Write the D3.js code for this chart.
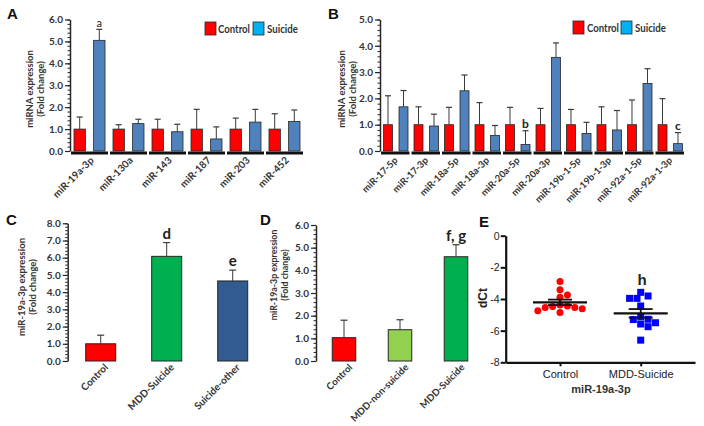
<!DOCTYPE html>
<html><head><meta charset="utf-8">
<script src="https://cdn.jsdelivr.net/npm/d3@7"></script>
<style>
body{margin:0;background:#fff;}
svg{display:block;font-family:Lato,"Open Sans",sans-serif;}
</style></head><body>
<svg id="c" width="704" height="426"></svg>
<script>
// ---------- data ----------
const groupsAB = ['Control', 'Suicide'];
const mirsA = ['miR-19a-3p', 'miR-130a', 'miR-143', 'miR-187', 'miR-203', 'miR-452'];
const ctrlA = [1, 1, 1, 1, 1, 1];
const ctrlErrA = [0.55, 0.2, 0.45, 0.9, 0.5, 0.7];
const suiA = [5.05, 1.25, 0.88, 0.55, 1.32, 1.35];
const suiErrA = [0.5, 0.2, 0.34, 0.55, 0.58, 0.52];
const ticksA = [0, 1, 2, 3, 4, 5, 6];

const mirsB = ['miR-17-5p', 'miR-17-3p', 'miR-18a-5p', 'miR-18a-3p', 'miR-20a-5p', 'miR-20a-3p', 'miR-19b-1-5p', 'miR-19b-1-3p', 'miR-92a-1-5p', 'miR-92a-1-3p'];
const ctrlB = [1, 1, 1, 1, 1, 1, 1, 1, 1, 1];
const ctrlErrB = [1.1, 0.68, 0.66, 0.84, 0.66, 0.62, 0.58, 0.68, 0.94, 0.99];
const suiB = [1.68, 0.95, 2.29, 0.59, 0.25, 3.56, 0.67, 0.8, 2.57, 0.28];
const suiErrB = [0.62, 0.45, 0.6, 0.38, 0.52, 0.55, 0.42, 0.74, 0.56, 0.42];
const ticksB = [0, 1, 2, 3, 4, 5];
const sigB = {'miR-20a-5p': 'b', 'miR-92a-1-3p': 'c'};

const groupsC = ['Control', 'MDD-Suicide', 'Suicide-other'];
const valsC = [1.0, 6.08, 4.65];
const errC = [0.5, 0.8, 0.63];
const sigC = ['', 'd', 'e'];
const ticksC = [0, 1, 2, 3, 4, 5, 6, 7, 8];

const groupsD = ['Control', 'MDD-non-suicide', 'MDD-Suicide'];
const valsD = [1.03, 1.38, 4.6];
const errD = [0.77, 0.44, 0.53];
const sigD = ['', '', 'f, g'];
const ticksD = [0, 1, 2, 3, 4, 5, 6];

const groupsE = ['Control', 'MDD-Suicide'];
const ctrlE = [-2.9, -3.41, -3.75, -3.89, -4.38, -4.44, -4.53, -4.61, -4.86, -4.74, -4.53, -4.48];
const mddE = [-3.58, -3.81, -3.96, -3.96, -4.44, -5.12, -5.3, -5.28, -5.58, -5.75, -5.5, -6.6];
const ticksE = [0, -2, -4, -6, -8];

// ---------- helpers ----------
const svg = d3.select('#c');
const TXT = '#333333';
const STROKE = '#262626';
const RED = '#ff0000', BLUE = '#4f81bd', LEGBLUE = '#00b0f0';

function yAxisBars(x, y, majors, minorStep) {
  const [d0, d1] = y.domain();
  const minors = d3.range(d0, d1 + 1e-9, minorStep);
  svg.append('g').attr('transform', `translate(${x},0)`)
    .call(d3.axisLeft(y).tickValues(minors).tickSize(2.5).tickSizeOuter(0).tickFormat(''))
    .call(g => g.selectAll('line').attr('stroke', STROKE))
    .call(g => g.select('.domain').attr('stroke', STROKE).attr('stroke-width', 1.5));
  svg.append('g').attr('transform', `translate(${x},0)`)
    .call(d3.axisLeft(y).tickValues(majors).tickSize(5).tickSizeOuter(0).tickFormat(d3.format('.1f')))
    .call(g => g.select('.domain').remove())
    .call(g => g.selectAll('line').attr('stroke', STROKE).attr('stroke-width', 1.2))
    .call(g => g.selectAll('text').attr('fill', TXT).attr('font-size', 10).attr('font-weight', 700)
      .attr('font-family', 'Lato, sans-serif').attr('x', -7));
}

function yTitle(cx, cy, lines, size) {
  lines.forEach((t, i) => {
    svg.append('text').attr('transform', `translate(${cx[i]},${cy}) rotate(-90)`)
      .attr('text-anchor', 'middle').attr('font-size', size).attr('font-weight', 700)
      .attr('fill', TXT).text(t);
  });
}

function errBar(xc, yTop, yVal, cap) {
  svg.append('line').attr('x1', xc).attr('x2', xc).attr('y1', yVal).attr('y2', yTop)
    .attr('stroke', '#3a3a3a').attr('stroke-width', 1);
  svg.append('line').attr('x1', xc - cap / 2).attr('x2', xc + cap / 2).attr('y1', yTop).attr('y2', yTop)
    .attr('stroke', '#3a3a3a').attr('stroke-width', 1.2);
}

function panelLetter(t, x, y) {
  svg.append('text').attr('x', x).attr('y', y).attr('font-family', 'Arial, "Liberation Sans", sans-serif')
    .attr('font-weight', 700).attr('font-size', 15).attr('fill', '#111').text(t);
}

function groupedPanel(o) {
  const x0 = d3.scaleBand().domain(o.cats).range(o.xr);
  const x1 = d3.scaleBand().domain(groupsAB).range(o.sub).paddingInner(0.42);
  const y = d3.scaleLinear().domain(o.yd).range(o.yr);
  yAxisBars(o.xr[0], y, o.ticks, 0.2);
  // segmented baseline
  svg.append('g').selectAll('line').data(o.cats).join('line')
    .attr('x1', d => x0(d) + 1).attr('x2', d => x0(d) + x0.step() - 1)
    .attr('y1', y(0) + 2).attr('y2', y(0) + 2)
    .attr('stroke', '#111').attr('stroke-width', 3);
  const rows = [];
  o.cats.forEach((c, i) => {
    rows.push({c, g: 'Control', v: o.ctrl[i], e: o.ctrlErr[i]});
    rows.push({c, g: 'Suicide', v: o.sui[i], e: o.suiErr[i]});
  });
  svg.append('g').selectAll('rect').data(rows).join('rect')
    .attr('x', d => x0(d.c) + x1(d.g)).attr('width', x1.bandwidth())
    .attr('y', d => y(d.v)).attr('height', d => y(0) - y(d.v))
    .attr('fill', d => d.g === 'Control' ? RED : BLUE)
    .attr('stroke', STROKE).attr('stroke-width', 0.8);
  rows.forEach(d => errBar(x0(d.c) + x1(d.g) + x1.bandwidth() / 2, y(d.v + d.e), y(d.v), 6));
  // labels
  svg.append('g').selectAll('text').data(o.cats).join('text')
    .attr('transform', d => `translate(${x0(d) + x0.bandwidth() / 2 + o.lblDx},${y(0) + 10}) rotate(-45)`)
    .attr('text-anchor', 'end').attr('font-size', o.lblSize).attr('font-weight', 700).attr('fill', TXT)
    .text(d => d);
  // significance
  rows.forEach(d => {
    const s = o.sig[d.c];
    if (s && d.g === 'Suicide') {
      svg.append('text').attr('x', x0(d.c) + x1(d.g) + x1.bandwidth() / 2).attr('y', y(d.v + d.e) - 2.5)
        .attr('text-anchor', 'middle').attr('font-size', o.sigSize).attr('font-weight', o.sigWeight)
        .attr('fill', '#222').text(s);
    }
  });
  // legend
  const L = o.leg;
  [[groupsAB[0], RED, L[0], L[2], 32], [groupsAB[1], LEGBLUE, L[1], L[3], 31]].forEach(([t, col, rx, tx, w]) => {
    svg.append('rect').attr('x', rx).attr('y', o.legY).attr('width', 11).attr('height', 13)
      .attr('fill', col).attr('stroke', STROKE).attr('stroke-width', 0.8);
    svg.append('text').attr('x', tx).attr('y', o.legY + 11).attr('font-size', 10.5).attr('font-weight', 700)
      .attr('textLength', w).attr('lengthAdjust', 'spacingAndGlyphs')
      .attr('fill', TXT).text(t);
  });
  return {x0, x1, y};
}

// ---------- Panel A ----------
panelLetter('A', 7, 19);
groupedPanel({
  cats: mirsA, ctrl: ctrlA, ctrlErr: ctrlErrA, sui: suiA, suiErr: suiErrA,
  xr: [70, 304], sub: [4, 35], yd: [0, 6], yr: [151, 19.5], ticks: ticksA,
  lblDx: 5, lblSize: 10, sig: {'miR-19a-3p': 'a'}, sigSize: 11, sigWeight: 400,
  leg: [205, 253, 218, 267], legY: 22
});
yTitle([33, 44], 89, ['miRNA  expression', '(Fold change)'], 9.5);

// ---------- Panel B ----------
panelLetter('B', 328, 19);
groupedPanel({
  cats: mirsB, ctrl: ctrlB, ctrlErr: ctrlErrB, sui: suiB, suiErr: suiErrB,
  xr: [380, 685], sub: [3.5, 28], yd: [0, 5], yr: [151, 19.5], ticks: ticksB,
  lblDx: 3, lblSize: 9.5, sig: sigB, sigSize: 12, sigWeight: 700,
  leg: [573, 621, 587, 635], legY: 21
});
yTitle([345, 356], 89, ['miRNA  expression', '(Fold change)'], 9.5);

// ---------- single bar panels ----------
function singlePanel(o) {
  const x = d3.scaleBand().domain(o.cats).range(o.xr).paddingInner(o.pi).paddingOuter(o.pi / 2);
  const y = d3.scaleLinear().domain(o.yd).range(o.yr);
  yAxisBars(o.xr[0], y, o.ticks, 0.2);
  svg.append('g').selectAll('rect').data(o.cats).join('rect')
    .attr('x', d => x(d)).attr('width', x.bandwidth())
    .attr('y', (d, i) => y(o.vals[i])).attr('height', (d, i) => y(0) - y(o.vals[i]))
    .attr('fill', (d, i) => o.colors[i]).attr('stroke', STROKE).attr('stroke-width', 1);
  o.cats.forEach((d, i) => {
    const xc = x(d) + x.bandwidth() / 2;
    errBar(xc, y(o.vals[i] + o.errs[i]), y(o.vals[i]), 7);
    if (o.sig[i]) {
      svg.append('text').attr('x', xc).attr('y', y(o.vals[i] + o.errs[i]) - 4)
        .attr('text-anchor', 'middle').attr('font-size', 15).attr('font-weight', 700)
        .attr('fill', '#222').text(o.sig[i]);
    }
  });
  svg.append('g').selectAll('text').data(o.cats).join('text')
    .attr('transform', d => `translate(${x(d) + x.bandwidth() / 2 + o.lblDx},${y(0) + 7}) rotate(-45)`)
    .attr('text-anchor', 'end').attr('font-size', o.lblSize).attr('font-weight', 700).attr('fill', TXT)
    .text(d => d);
}

panelLetter('C', 6, 225);
singlePanel({
  cats: groupsC, vals: valsC, errs: errC, sig: sigC, colors: [RED, '#00b050', '#325b91'],
  xr: [67.7, 265.7], pi: 0.545, yd: [0, 8], yr: [361, 223.3], ticks: ticksC, lblDx: 8, lblSize: 10
});
yTitle([25, 35.5], 287, ['miR-19a-3p  expression', '(Fold change)'], 9.5);

panelLetter('D', 260, 225);
singlePanel({
  cats: groupsD, vals: valsD, errs: errD, sig: sigD, colors: [RED, '#92d050', '#00b050'],
  xr: [316, 484], pi: 0.58, yd: [0, 6], yr: [361, 225], ticks: ticksD, lblDx: 9, lblSize: 9.6
});
yTitle([277, 287.5], 275, ['miR-19a-3p  expression', '(Fold change)'], 8.8);

// ---------- Panel E ----------
panelLetter('E', 479, 227);
const xE = d3.scalePoint().domain(groupsE).range([505.7, 695]).padding(0.673);
const yE = d3.scaleLinear().domain([-8, 0]).range([362.3, 235.7]);
svg.append('g').attr('transform', 'translate(505.7,0)')
  .call(d3.axisLeft(yE).tickValues(ticksE).tickSize(5).tickSizeOuter(0).tickFormat(d => String(d)))
  .call(g => g.select('.domain').attr('stroke', '#111').attr('stroke-width', 2.2))
  .call(g => g.selectAll('line').attr('stroke', '#111').attr('stroke-width', 2))
  .call(g => g.selectAll('text').attr('font-family', 'Arial, "Liberation Sans", sans-serif')
    .attr('font-size', 10.5).attr('fill', '#222').attr('x', -6));
svg.append('g').attr('transform', 'translate(0,362.3)')
  .call(d3.axisBottom(xE).tickSize(4).tickSizeOuter(0))
  .call(g => g.select('.domain').attr('stroke', '#111').attr('stroke-width', 2.2))
  .call(g => g.selectAll('line').attr('stroke', '#111').attr('stroke-width', 2))
  .call(g => g.selectAll('text').attr('font-family', 'Arial, "Liberation Sans", sans-serif')
    .attr('font-size', 11).attr('fill', '#222').attr('y', 8));
svg.append('text').attr('x', 601).attr('y', 393).attr('text-anchor', 'middle')
  .attr('font-family', 'Arial, "Liberation Sans", sans-serif').attr('font-size', 11)
  .attr('font-weight', 700).attr('fill', '#333').text('miR-19a-3p');
svg.append('text').attr('transform', 'translate(487,298) rotate(-90)').attr('text-anchor', 'middle')
  .attr('font-family', 'Arial, "Liberation Sans", sans-serif').attr('font-size', 12)
  .attr('font-weight', 700).attr('fill', '#222').text('dCt');

function swarm(values, cx, r) {
  const placed = [];
  const order = values.map((v, i) => i).sort((a, b) => values[b] - values[a]);
  const step = 2 * r + 0.4;
  const offs = [0];
  for (let k = 1; k < 12; k++) { offs.push(k * step / 2, -k * step / 2); }
  order.forEach(i => {
    const py = yE(values[i]);
    for (const o of offs) {
      const px = cx + o;
      if (placed.every(p => (p.x - px) ** 2 + (p.y - py) ** 2 >= (2 * r) ** 2)) {
        placed.push({x: px, y: py, v: values[i]});
        break;
      }
    }
  });
  return placed;
}
const R = 3.5;
const ptsC = swarm(ctrlE, xE('Control'), R);
const ptsM = swarm(mddE, xE('MDD-Suicide'), R);
svg.append('g').selectAll('circle').data(ptsC).join('circle')
  .attr('cx', d => d.x).attr('cy', d => d.y).attr('r', R).attr('fill', '#ff0000');
svg.append('g').selectAll('rect').data(ptsM).join('rect')
  .attr('x', d => d.x - R).attr('y', d => d.y - R).attr('width', 2 * R).attr('height', 2 * R).attr('fill', '#0000ff');

[[ctrlE, 'Control'], [mddE, 'MDD-Suicide']].forEach(([vals, g]) => {
  const m = d3.mean(vals), sem = d3.deviation(vals) / Math.sqrt(vals.length);
  const cx = xE(g);
  svg.append('line').attr('x1', cx - 27).attr('x2', cx + 27).attr('y1', yE(m)).attr('y2', yE(m))
    .attr('stroke', '#111').attr('stroke-width', 2.2);
  svg.append('line').attr('x1', cx).attr('x2', cx).attr('y1', yE(m - sem)).attr('y2', yE(m + sem))
    .attr('stroke', '#111').attr('stroke-width', 1.8);
  [m - sem, m + sem].forEach(v => svg.append('line').attr('x1', cx - 12).attr('x2', cx + 12)
    .attr('y1', yE(v)).attr('y2', yE(v)).attr('stroke', '#111').attr('stroke-width', 1.8));
});
svg.append('text').attr('x', xE('MDD-Suicide') + 1.5).attr('y', yE(d3.max(mddE)) - 7)
  .attr('text-anchor', 'middle').attr('font-family', 'Arial, "Liberation Sans", sans-serif')
  .attr('font-size', 15).attr('font-weight', 700).attr('fill', '#222').text('h');
</script>
</body></html>
